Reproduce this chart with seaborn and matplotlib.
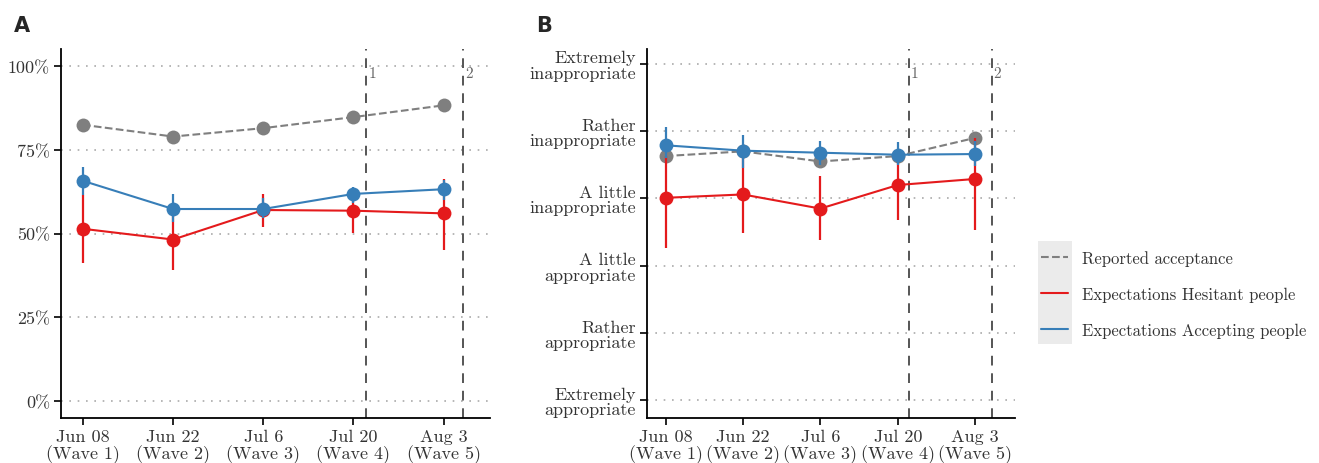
import numpy as np
import pandas as pd
import matplotlib
matplotlib.use('Agg')
import matplotlib.pyplot as plt
import seaborn as sns
from matplotlib.lines import Line2D
from matplotlib.patches import Rectangle

sns.set_theme(style='white')
plt.rcParams['font.family'] = ['cmr10', 'DejaVu Serif']
plt.rcParams['axes.formatter.use_mathtext'] = True

# days since Jun 08
days = [0, 14, 28, 42, 56]
date_labels = ['Jun 08\n(Wave 1)', 'Jun 22\n(Wave 2)', 'Jul 6\n(Wave 3)',
               'Jul 20\n(Wave 4)', 'Aug 3\n(Wave 5)']
event_days = [44, 59]
event_labels = ['1', '2']

series_names = ['Reported acceptance', 'Expectations Hesitant people',
                'Expectations Accepting people']
colors = {'Reported acceptance': '#7f7f7f',
          'Expectations Hesitant people': '#e41a1c',
          'Expectations Accepting people': '#377eb8'}

# panel A (percent)
a_reported = [82.4, 78.9, 81.4, 84.7, 88.2]
a_hesitant = [51.4, 48.2, 57.0, 56.8, 56.0]
a_hesitant_lo = [41.3, 39.0, 51.9, 50.2, 45.2]
a_hesitant_hi = [61.6, 57.0, 61.8, 63.0, 66.3]
a_accepting = [65.7, 57.3, 57.3, 61.8, 63.2]
a_accepting_lo = [61.5, 53.3, 54.5, 59.0, 60.0]
a_accepting_hi = [69.8, 61.9, 60.5, 64.0, 66.0]

# panel B (1 = extremely appropriate ... 6 = extremely inappropriate)
b_reported = [4.63, 4.70, 4.55, 4.63, 4.90]
b_hesitant = [4.01, 4.06, 3.85, 4.20, 4.29]
b_hesitant_lo = [3.26, 3.49, 3.38, 3.68, 3.53]
b_hesitant_hi = [4.63, 4.78, 4.33, 4.70, 4.90]
b_accepting = [4.79, 4.71, 4.68, 4.65, 4.66]
b_accepting_lo = [4.60, 4.45, 4.50, 4.50, 4.48]
b_accepting_hi = [5.06, 4.95, 4.86, 4.84, 4.85]
b_ticks = [1, 2, 3, 4, 5, 6]
b_tick_labels = ['Extremely\nappropriate', 'Rather\nappropriate', 'A little\nappropriate',
                 'A little\ninappropriate', 'Rather\ninappropriate', 'Extremely\ninappropriate']

a_ticks = [0, 25, 50, 75, 100]
a_tick_labels = ['0%', '25%', '50%', '75%', '100%']

text_col = '#333333'
fs = 13


def long_df(rep, hes, acc):
    return pd.DataFrame({
        'day': days * 3,
        'value': rep + hes + acc,
        'series': [series_names[0]] * 5 + [series_names[1]] * 5 + [series_names[2]] * 5,
    })


def draw_panel(ax, df, hes_lo, hes_hi, acc_lo, acc_hi):
    # error bars for the expectations series
    ax.vlines(days, hes_lo, hes_hi, color=colors[series_names[1]], lw=1.6, zorder=3)
    for name in series_names:
        sub = df[df['series'] == name]
        sns.lineplot(data=sub, x='day', y='value', color=colors[name], ax=ax,
                     lw=1.5, linestyle='--' if name == series_names[0] else '-',
                     marker='o', markersize=10, markeredgewidth=0,
                     legend=False, zorder=2 if name == series_names[0] else 4)
        if name == series_names[1]:
            ax.vlines(days, acc_lo, acc_hi, color=colors[series_names[2]], lw=1.6, zorder=4)
    for d, lab in zip(event_days, event_labels):
        ax.axvline(d, color='#555555', ls=(0, (5, 4)), lw=1.4, zorder=1)
        ax.text(d + 0.3, 0.935, lab, transform=ax.get_xaxis_transform(),
                fontsize=11, color='#666666', ha='left', va='center')
    ax.set_xlim(-3.4, 63.2)
    ax.set_xticks(days)
    ax.set_xticklabels(date_labels, fontsize=fs, color=text_col, linespacing=1.0)
    ax.set_xlabel('')
    ax.set_ylabel('')
    ax.yaxis.grid(True, color='#aaaaaa', ls=(0, (1, 4)), lw=1.2)
    ax.xaxis.grid(False)
    sns.despine(ax=ax)
    for s in ['left', 'bottom']:
        ax.spines[s].set_color('black')
        ax.spines[s].set_linewidth(1.3)
    ax.tick_params(axis='both', direction='out', length=5, width=1.2, color='black',
                   bottom=True, left=True, pad=3)


fig = plt.figure(figsize=(13.19, 4.64), dpi=100)
ax1 = fig.add_axes([61 / 1319, 45 / 464, 429 / 1319, 369 / 464])
ax2 = fig.add_axes([646.7 / 1319, 45 / 464, 368.3 / 1319, 369 / 464])

draw_panel(ax1, long_df(a_reported, a_hesitant, a_accepting),
           a_hesitant_lo, a_hesitant_hi, a_accepting_lo, a_accepting_hi)
ax1.set_ylim(-5, 105)
ax1.set_yticks(a_ticks)
ax1.set_yticklabels(a_tick_labels, fontsize=fs, color=text_col)

draw_panel(ax2, long_df(b_reported, b_hesitant, b_accepting),
           b_hesitant_lo, b_hesitant_hi, b_accepting_lo, b_accepting_hi)
ax2.set_ylim(0.74, 6.22)
ax2.set_yticks(b_ticks)
ax2.set_yticklabels(b_tick_labels, fontsize=fs, color=text_col, linespacing=1.0)

fig.text(14 / 1319, 1 - 26 / 464, 'A', fontsize=15, fontweight='bold',
         family='DejaVu Sans', va='center', ha='left')
fig.text(536 / 1319, 1 - 26 / 464, 'B', fontsize=15, fontweight='bold',
         family='DejaVu Sans', va='center', ha='left')

# legend with gray key column
fig.patches.append(Rectangle((1038 / 1319, 1 - 345 / 464), 34 / 1319, 103 / 464,
                             transform=fig.transFigure, facecolor='#ebebeb',
                             edgecolor='none', zorder=0))
handles = [Line2D([], [], color=colors[series_names[0]], ls='--', lw=1.5),
           Line2D([], [], color=colors[series_names[1]], lw=1.5),
           Line2D([], [], color=colors[series_names[2]], lw=1.5)]
fig.legend(handles, series_names, loc='center left',
           bbox_to_anchor=(1041 / 1319, 1 - 295 / 464), frameon=False,
           borderpad=0, borderaxespad=0,
           fontsize=12, handlelength=1.6, handletextpad=0.85, labelspacing=1.25,
           labelcolor=text_col)

fig.savefig('out.png', dpi=100)
